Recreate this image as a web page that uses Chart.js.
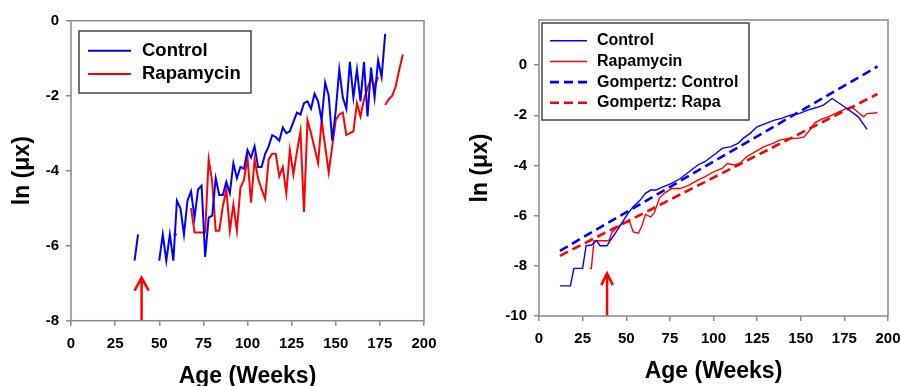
<!DOCTYPE html>
<html lang="en">
<head>
<meta charset="UTF-8">
<title>ln(μx) by age</title>
<script src="https://cdn.jsdelivr.net/npm/chart.js"></script>
<style>
  html, body { margin: 0; padding: 0; background: #fff; }
  #wrap { position: relative; width: 901px; height: 386px; }
  #leftChart { position: absolute; left: 0; top: 0; }
  #rightChart { position: absolute; left: 450px; top: 0; }
</style>
</head>
<body>
<div id="wrap">
  <canvas id="leftChart" width="450" height="386"></canvas>
  <canvas id="rightChart" width="451" height="386"></canvas>
</div>
<script>
// ---- left panel: raw weekly ln(mu x) ----
const leftCtrlWeeks = [36, 38, 40, 42, 44, 46, 48, 50, 52, 54, 56, 58, 60, 62, 64, 66, 68, 70, 72, 74,
  76, 78, 80, 82, 84, 86, 88, 90, 92, 94, 96, 98, 100, 102, 104, 106, 108, 110, 112, 114,
  116, 118, 120, 122, 124, 126, 128, 130, 132, 134, 136, 138, 140, 142, 144, 146, 148, 150, 152, 154,
  156, 158, 160, 162, 164, 166, 168, 170, 172, 174, 176, 178];
const leftCtrlValues = [-6.4, -5.7, null, null, null, null, null, -6.4, -5.7, -6.4, -5.7, -6.4, -4.8, -5.0, -5.7, -4.8, -4.55, -5.25, -4.5, -4.4,
  -6.3, -5.25, -5.2, -4.2, -4.65, -4.65, -4.3, -4.6, -3.8, -4.2, -3.9, -3.95, -3.45, -3.65, -3.35, -3.9, -3.9, -3.55, -3.35, -3.05,
  -3.1, -3.2, -2.85, -3.0, -2.95, -2.7, -2.45, -2.5, -2.2, -2.15, -2.35, -1.95, -2.15, -2.65, -1.65, -2.0, -3.2, -2.4, -1.3, -2.05,
  -2.35, -1.1, -2.05, -1.3, -2.15, -1.1, -2.55, -1.25, -2.05, -1.05, -1.5, -0.35];

const leftRapaWeeks = [58, 60, 62, 64, 66, 68, 70, 72, 74, 76, 78, 80, 82, 84, 86, 88, 90, 92, 94, 96,
  98, 100, 102, 104, 106, 108, 110, 112, 114, 116, 118, 120, 122, 124, 126, 128, 130, 132, 134, 136,
  138, 140, 142, 144, 146, 148, 150, 152, 154, 156, 158, 160, 162, 164, 166, 168, 170, 172, 174, 176,
  178, 180, 182, 184, 186, 188];
const leftRapaValues = [-5.7, -5.7, null, null, null, -5.0, -5.65, -5.65, -5.65, -5.65, -3.7, -4.3, -5.6, -5.6, -4.95, -4.5, -5.6, -4.9, -5.6, -4.45,
  -4.25, -3.65, -4.85, -3.7, -4.2, -4.5, -4.75, -3.7, -3.55, -3.55, -4.15, -3.9, -4.6, -3.45, -4.1, -3.5, -2.95, -5.1, -2.65, -3.0,
  -3.4, -3.8, -2.65, -3.35, -4.05, -3.35, -2.65, -2.5, -2.45, -3.05, -3.0, -2.95, -2.2, -2.55, -2.1, -1.8, -1.55, -1.75, -1.5, null,
  -2.25, -2.1, -2.0, -1.75, -1.3, -0.9];

// ---- right panel: smoothed ln(mu x) and Gompertz fits ----
const rightCtrlWeeks = [12, 18, 20, 25, 27, 30, 33, 35, 39, 41, 45, 48, 51, 54, 58, 61, 64, 67, 71, 76,
  81, 86, 91, 95, 100, 105, 110, 114, 117, 121, 125, 130, 135, 139, 144, 149, 154, 159, 163, 168,
  175, 183, 188];
const rightCtrlValues = [-8.8, -8.8, -8.1, -8.1, -7.2, -7.17, -7.0, -7.2, -7.2, -6.97, -6.57, -6.24, -5.91, -5.64, -5.38, -5.11, -4.98, -4.98, -4.85, -4.71,
  -4.52, -4.25, -3.98, -3.85, -3.59, -3.32, -3.25, -3.12, -2.92, -2.72, -2.46, -2.32, -2.19, -2.12, -1.99, -1.93, -1.79, -1.69, -1.59, -1.33,
  -1.66, -2.06, -2.56];

const rightRapaWeeks = [29, 30, 31.5, 40, 42, 45, 48, 52, 54, 57, 59, 61, 64, 66, 69, 72, 76, 81, 86, 91,
  95, 100, 105, 108, 112, 115, 119, 124, 129, 134, 138, 143, 148, 152, 155, 158, 162, 166, 170, 174,
  179, 186, 188, 194];
const rightRapaValues = [-8.1, -8.1, -7.0, -7.0, -6.65, -6.45, -6.3, -6.25, -6.65, -6.7, -6.4, -5.95, -6.05, -5.9, -5.3, -5.1, -4.92, -4.92, -4.78, -4.58,
  -4.45, -4.25, -4.12, -3.92, -3.98, -3.92, -3.65, -3.45, -3.25, -3.12, -2.99, -2.92, -2.92, -2.86, -2.6, -2.3, -2.15, -2.05, -1.92, -1.79,
  -1.66, -2.06, -1.93, -1.9];

const gompCtrlWeeks = [12, 194];
const gompCtrlValues = [-7.4, -0.05];
const gompRapaWeeks = [12, 194];
const gompRapaValues = [-7.6, -1.15];

// red arrows marking start of treatment (shaft, gap, head)
const leftArrowX = [40, 40, 40, 36, 40, 44];
const leftArrowY = [-8, -6.85, null, -7.2, -6.85, -7.2];
const rightArrowX = [39, 39, 39, 35.7, 39, 42.3];
const rightArrowY = [-10, -8.3, null, -8.77, -8.3, -8.77];

const FONT = '"Liberation Sans", Arial, Helvetica, sans-serif';
Chart.defaults.font.family = FONT;
Chart.defaults.color = '#000';

function pts(xs, ys) {
  return xs.map((x, i) => ({ x: x, y: ys[i] }));
}

function line(label, xs, ys, color, width, dash) {
  return {
    label: label,
    data: pts(xs, ys),
    borderColor: color,
    borderWidth: width,
    borderDash: dash || [],
    pointRadius: 0,
    tension: 0,
    fill: false,
    spanGaps: false
  };
}

// grey box round the plot area
const framePlugin = {
  id: 'frame',
  afterDatasetsDraw(chart) {
    const { ctx, chartArea: a } = chart;
    ctx.save();
    ctx.strokeStyle = '#8a8a8a';
    ctx.lineWidth = 1.5;
    ctx.strokeRect(a.left, a.top, a.right - a.left, a.bottom - a.top);
    ctx.restore();
  }
};

// boxed legend placed inside the plot
const boxLegend = {
  id: 'boxLegend',
  afterDraw(chart, args, o) {
    const ctx = chart.ctx;
    const items = chart.data.datasets.filter(d => d.label);
    ctx.save();
    ctx.fillStyle = '#fff';
    ctx.fillRect(o.x, o.y, o.w, o.h);
    ctx.strokeStyle = '#444';
    ctx.lineWidth = 1.5;
    ctx.strokeRect(o.x, o.y, o.w, o.h);
    ctx.font = 'bold ' + o.fontSize + 'px ' + FONT;
    ctx.textBaseline = 'middle';
    items.forEach((d, i) => {
      const y = o.rowY + i * o.rowGap;
      ctx.strokeStyle = d.borderColor;
      ctx.lineWidth = o.sampleWidth[i];
      ctx.setLineDash(d.borderDash);
      ctx.beginPath();
      ctx.moveTo(o.lineX0, y);
      ctx.lineTo(o.lineX1, y);
      ctx.stroke();
      ctx.setLineDash([]);
      ctx.fillStyle = '#000';
      ctx.fillText(d.label, o.textX, y);
    });
    ctx.restore();
  }
};

function scales(yMin, yMax, yW, xH, yTitlePad, xTitlePad) {
  const tickGrid = { display: true, drawOnChartArea: false, tickLength: 5, color: '#8a8a8a', lineWidth: 1.5 };
  return {
    x: {
      type: 'linear', min: 0, max: 200,
      grid: tickGrid,
      border: { display: false },
      ticks: { stepSize: 25, padding: 9, maxRotation: 0, autoSkip: false, font: { size: 15, weight: 'bold' } },
      title: { display: true, text: 'Age (Weeks)', padding: { top: 0, bottom: xTitlePad }, font: { size: 23, weight: 'bold', lineHeight: 1 } },
      afterFit(s) {
        s.height = xH;
        s.paddingLeft = 0;
        s.paddingRight = 0;
      }
    },
    y: {
      type: 'linear', min: yMin, max: yMax,
      grid: tickGrid,
      border: { display: false },
      ticks: { stepSize: 2, padding: 7, includeBounds: false, font: { size: 15, weight: 'bold' } },
      title: { display: true, text: 'ln (μx)', padding: { top: yTitlePad, bottom: 0 }, font: { size: 23, weight: 'bold' } },
      afterFit(s) {
        s.width = yW;
        s.paddingTop = 0;
        s.paddingBottom = 0;
      }
    }
  };
}

new Chart(document.getElementById('leftChart'), {
  type: 'line',
  data: {
    datasets: [
      line('Control', leftCtrlWeeks, leftCtrlValues, '#0000ff', 2),
      line('Rapamycin', leftRapaWeeks, leftRapaValues, '#ff0000', 2),
      line(undefined, leftArrowX, leftArrowY, '#ff0000', 2.5)
    ]
  },
  options: {
    responsive: false,
    animation: false,
    layout: { padding: { top: 20.7, right: 26, bottom: 0, left: 0 } },
    scales: scales(-8, 0, 71, 65.3, 9, -2),
    plugins: {
      legend: { display: false },
      tooltip: { enabled: false },
      boxLegend: { x: 79, y: 31, w: 172, h: 62, rowY: 50.7, rowGap: 23.3, lineX0: 88, lineX1: 131, textX: 142, fontSize: 18.5, sampleWidth: [2, 2] }
    }
  },
  plugins: [framePlugin, boxLegend]
});

new Chart(document.getElementById('rightChart'), {
  type: 'line',
  data: {
    datasets: [
      line('Control', rightCtrlWeeks, rightCtrlValues, '#0000ff', 1.4),
      line('Rapamycin', rightRapaWeeks, rightRapaValues, '#ff0000', 1.4),
      line('Gompertz: Control', gompCtrlWeeks, gompCtrlValues, '#0000ff', 2.6, [9, 5]),
      line('Gompertz: Rapa', gompRapaWeeks, gompRapaValues, '#ff0000', 2.6, [9, 5]),
      line(undefined, rightArrowX, rightArrowY, '#ff0000', 2.5)
    ]
  },
  options: {
    responsive: false,
    animation: false,
    layout: { padding: { top: 20, right: 13, bottom: 0, left: 0 } },
    scales: scales(-10, 1.8, 89, 70, 17, 2.5),
    plugins: {
      legend: { display: false },
      tooltip: { enabled: false },
      boxLegend: { x: 92, y: 23, w: 207, h: 97, rowY: 40.7, rowGap: 20.7, lineX0: 100, lineX1: 137, textX: 147, fontSize: 16, sampleWidth: [1.5, 1.5, 2.6, 2.6] }
    }
  },
  plugins: [framePlugin, boxLegend]
});
</script>
</body>
</html>
